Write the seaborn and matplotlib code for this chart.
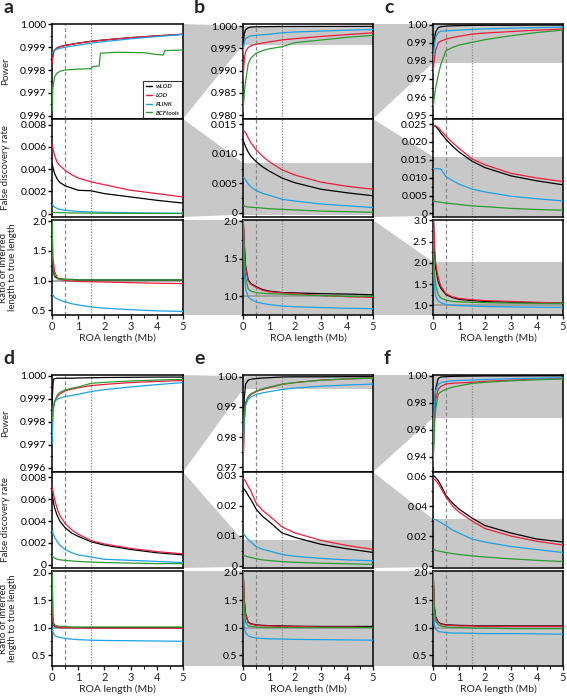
import numpy as np
import pandas as pd
import seaborn as sns
import matplotlib.pyplot as plt
from matplotlib.patches import Polygon
from matplotlib.lines import Line2D
from matplotlib.ticker import MultipleLocator, AutoMinorLocator, FuncFormatter

sns.set_theme(style='ticks')
plt.rcParams['font.family'] = ['Lato', 'DejaVu Sans']

methods = ['wLOD', 'LOD', 'PLINK', 'BCFtools']
palette = {'wLOD': '#000000', 'LOD': '#ee1c3c', 'PLINK': '#1ea0e6', 'BCFtools': '#2e9a33'}

roa = [0, 0.05, 0.1, 0.2, 0.3, 0.5, 0.75, 1, 1.5, 2, 3, 4, 5]

# ---- panel a ----
a_power = {
    'wLOD': [0.9984, 0.99875, 0.99888, 0.99897, 0.99902, 0.99908, 0.99913, 0.99918, 0.99926, 0.99932, 0.99942, 0.9995, 0.99957],
    'LOD': [0.9983, 0.99875, 0.99888, 0.99897, 0.99902, 0.99908, 0.99913, 0.99918, 0.99926, 0.99932, 0.99942, 0.9995, 0.99957],
    'PLINK': [0.99872, 0.99882, 0.99887, 0.99892, 0.99895, 0.999, 0.99905, 0.99909, 0.99918, 0.99925, 0.99937, 0.99947, 0.99956],
}
a_power_bcf_x = [0, 0.03, 0.1, 0.2, 0.35, 0.5, 1.0, 1.5, 1.55, 1.8, 1.85, 2.5, 3.5, 4.0, 4.25, 4.3, 5]
a_power_bcf_y = [0.9962, 0.9972, 0.9977, 0.99788, 0.99796, 0.998, 0.99804, 0.99806, 0.99815, 0.99818,
                 0.99874, 0.99878, 0.99876, 0.99868, 0.99866, 0.99885, 0.99888]
a_fdr = {
    'wLOD': [0.0045, 0.0040, 0.0036, 0.0031, 0.0028, 0.0025, 0.0023, 0.0021, 0.00205, 0.0018, 0.0015, 0.0012, 0.00095],
    'LOD': [0.0062, 0.0057, 0.0052, 0.0046, 0.0043, 0.0039, 0.0035, 0.0032, 0.00285, 0.0026, 0.0021, 0.0018, 0.0015],
    'PLINK': [0.0009, 0.0007, 0.0006, 0.00045, 0.0004, 0.0003, 0.00025, 0.0002, 0.00015, 0.00012, 0.00008, 0.00005, 0.00003],
    'BCFtools': [0.00012, 0.00011, 0.0001, 0.0001, 0.00009, 0.00008, 0.00007, 0.00006, 0.00005, 0.00004, 0.00003, 0.00002, 0.00002],
}
a_ratio = {
    'wLOD': [1.3, 1.15, 1.08, 1.04, 1.03, 1.02, 1.02, 1.01, 1.01, 1.01, 1.01, 1.01, 1.01],
    'LOD': [1.45, 1.33, 1.15, 1.05, 1.02, 1.0, 0.99, 0.985, 0.98, 0.975, 0.965, 0.955, 0.95],
    'PLINK': [0.78, 0.75, 0.72, 0.69, 0.67, 0.64, 0.61, 0.59, 0.555, 0.535, 0.51, 0.49, 0.48],
    'BCFtools': [2.05, 1.2, 1.06, 1.03, 1.02, 1.02, 1.015, 1.01, 1.01, 1.01, 1.01, 1.01, 1.01],
}

# ---- panel b ----
b_power = {
    'wLOD': [0.995, 0.9984, 0.9992, 0.99965, 0.9998, 0.99988, 0.9999, 0.99992, 0.99994, 0.99995, 0.99996, 0.99997, 0.99998],
    'LOD': [0.9881, 0.9925, 0.9943, 0.9952, 0.9956, 0.99595, 0.9962, 0.99645, 0.99692, 0.9972, 0.9977, 0.9981, 0.99853],
    'PLINK': [0.9936, 0.9965, 0.9972, 0.9976, 0.9978, 0.99795, 0.99808, 0.99818, 0.99853, 0.9987, 0.9989, 0.9991, 0.99927],
    'BCFtools': [0.9807, 0.985, 0.9877, 0.9915, 0.9928, 0.9939, 0.9945, 0.9949, 0.99538, 0.9963, 0.9969, 0.9975, 0.99795],
}
b_fdr = {
    'wLOD': [0.0122, 0.0118, 0.0112, 0.0103, 0.0096, 0.0087, 0.0078, 0.0071, 0.0059, 0.0051, 0.0040, 0.0034, 0.0029],
    'LOD': [0.0139, 0.0138, 0.0136, 0.0127, 0.0119, 0.0107, 0.0096, 0.0087, 0.0073, 0.0064, 0.0052, 0.0045, 0.0040],
    'PLINK': [0.0060, 0.0059, 0.0056, 0.0049, 0.0044, 0.0038, 0.0033, 0.0030, 0.0023, 0.0020, 0.0015, 0.0012, 0.0009],
    'BCFtools': [0.0012, 0.0012, 0.0011, 0.001, 0.00095, 0.0009, 0.0008, 0.0007, 0.0006, 0.0005, 0.0003, 0.0002, 0.0001],
}
b_ratio = {
    'wLOD': [2.1, 1.7, 1.4, 1.22, 1.17, 1.13, 1.09, 1.07, 1.05, 1.045, 1.035, 1.03, 1.02],
    'LOD': [2.1, 1.65, 1.38, 1.21, 1.16, 1.12, 1.08, 1.06, 1.045, 1.035, 1.01, 0.995, 0.985],
    'PLINK': [2.1, 1.3, 1.1, 0.99, 0.96, 0.925, 0.905, 0.89, 0.87, 0.86, 0.85, 0.84, 0.835],
    'BCFtools': [2.1, 1.5, 1.25, 1.1, 1.07, 1.05, 1.04, 1.035, 1.03, 1.02, 1.01, 1.0, 1.0],
}

# ---- panel c ----
c_power = {
    'wLOD': [0.9857, 0.992, 0.996, 0.9985, 0.999, 0.9993, 0.9995, 0.9996, 0.9997, 0.9998, 0.9998, 0.9999, 0.9999],
    'LOD': [0.9732, 0.981, 0.986, 0.990, 0.991, 0.9921, 0.9930, 0.9937, 0.9949, 0.9955, 0.9963, 0.9971, 0.9977],
    'PLINK': [0.9793, 0.988, 0.993, 0.9958, 0.9965, 0.9967, 0.9969, 0.9971, 0.9975, 0.9978, 0.9982, 0.9985, 0.9988],
    'BCFtools': [0.9537, 0.960, 0.965, 0.972, 0.978, 0.9857, 0.9875, 0.9888, 0.9903, 0.9918, 0.9940, 0.9958, 0.9971],
}
c_fdr = {
    'wLOD': [0.0245, 0.0245, 0.0244, 0.0235, 0.0225, 0.0207, 0.0188, 0.0172, 0.0146, 0.0128, 0.0105, 0.0091, 0.008],
    'LOD': [0.0245, 0.0245, 0.0245, 0.0240, 0.0232, 0.0216, 0.0198, 0.0182, 0.01525, 0.0136, 0.0112, 0.0099, 0.0089],
    'PLINK': [0.0125, 0.0125, 0.0125, 0.0125, 0.0124, 0.0103, 0.0092, 0.0082, 0.0068, 0.006, 0.0048, 0.0041, 0.0035],
    'BCFtools': [0.0034, 0.0034, 0.0033, 0.0032, 0.0031, 0.0029, 0.0027, 0.0025, 0.0021, 0.0019, 0.0014, 0.0011, 0.0009],
}
c_ratio = {
    'wLOD': [3.5, 2.3, 1.9, 1.55, 1.4, 1.25, 1.18, 1.14, 1.11, 1.09, 1.07, 1.06, 1.05],
    'LOD': [3.5, 2.5, 2.0, 1.65, 1.45, 1.27, 1.2, 1.16, 1.13, 1.11, 1.09, 1.07, 1.05],
    'PLINK': [2.0, 1.45, 1.22, 1.1, 1.06, 1.02, 1.0, 0.99, 0.98, 0.97, 0.96, 0.955, 0.95],
    'BCFtools': [2.8, 1.8, 1.5, 1.25, 1.17, 1.12, 1.09, 1.08, 1.07, 1.06, 1.05, 1.045, 1.04],
}

# ---- panel d ----
d_power = {
    'wLOD': [0.9988, 0.99985, 0.99988, 0.9999, 0.9999, 0.9999, 0.9999, 0.99991, 0.99992, 0.99993, 0.99994, 0.99995, 0.99995],
    'LOD': [0.9980, 0.9986, 0.99885, 0.9991, 0.99922, 0.99935, 0.99942, 0.99948, 0.99958, 0.99963, 0.99971, 0.99976, 0.9998],
    'PLINK': [0.9970, 0.9986, 0.9989, 0.99898, 0.99903, 0.9991, 0.99915, 0.9992, 0.99932, 0.9994, 0.99952, 0.99962, 0.99971],
    'BCFtools': [0.9980, 0.9986, 0.9989, 0.99915, 0.99928, 0.99939, 0.99946, 0.99952, 0.99968, 0.99972, 0.99978, 0.99982, 0.99985],
}
d_fdr = {
    'wLOD': [0.0065, 0.0058, 0.0052, 0.0045, 0.0040, 0.0034, 0.0029, 0.0026, 0.0021, 0.0018, 0.0014, 0.0011, 0.0009],
    'LOD': [0.0071, 0.0066, 0.0060, 0.0051, 0.0045, 0.0038, 0.0032, 0.0028, 0.0022, 0.0019, 0.0015, 0.0012, 0.0010],
    'PLINK': [0.0031, 0.0028, 0.0025, 0.0021, 0.0018, 0.0014, 0.0011, 0.0009, 0.0007, 0.0005, 0.0004, 0.0003, 0.0002],
    'BCFtools': [0.0008, 0.0007, 0.0006, 0.0005, 0.00045, 0.0004, 0.00035, 0.0003, 0.00025, 0.0002, 0.00015, 0.0001, 0.0001],
}
d_ratio = {
    'wLOD': [1.3, 1.05, 1.02, 1.01, 1.0, 1.0, 1.0, 1.0, 1.0, 1.0, 1.0, 1.0, 1.0],
    'LOD': [1.35, 1.06, 1.03, 1.01, 1.0, 1.0, 0.995, 0.995, 0.99, 0.99, 0.99, 0.99, 0.99],
    'PLINK': [1.0, 0.9, 0.86, 0.83, 0.82, 0.8, 0.79, 0.78, 0.77, 0.765, 0.76, 0.755, 0.75],
    'BCFtools': [2.1, 1.1, 1.05, 1.03, 1.02, 1.02, 1.01, 1.01, 1.01, 1.01, 1.01, 1.01, 1.01],
}

# ---- panel e ----
e_power = {
    'wLOD': [0.97, 0.993, 0.9975, 0.9988, 0.9991, 0.9993, 0.9995, 0.9996, 0.99985, 0.9999, 0.9999, 0.99995, 0.99995],
    'LOD': [0.968, 0.985, 0.991, 0.993, 0.994, 0.995, 0.9957, 0.9963, 0.9974, 0.998, 0.9988, 0.9992, 0.9995],
    'PLINK': [0.975, 0.986, 0.9905, 0.9925, 0.9932, 0.9941, 0.9946, 0.995, 0.9957, 0.9962, 0.9968, 0.9972, 0.9975],
    'BCFtools': [0.975, 0.988, 0.9915, 0.9935, 0.9943, 0.9952, 0.996, 0.9965, 0.9975, 0.998, 0.9988, 0.9992, 0.9995],
}
e_fdr = {
    'wLOD': [0.026, 0.0255, 0.025, 0.0235, 0.0222, 0.019, 0.0165, 0.0148, 0.011, 0.0095, 0.0072, 0.0057, 0.0045],
    'LOD': [0.029, 0.0288, 0.0282, 0.0265, 0.025, 0.021, 0.0185, 0.0168, 0.013, 0.011, 0.0085, 0.0068, 0.0055],
    'PLINK': [0.011, 0.0105, 0.0098, 0.0088, 0.008, 0.0065, 0.0055, 0.005, 0.0038, 0.0032, 0.0025, 0.002, 0.0017],
    'BCFtools': [0.0035, 0.0034, 0.0033, 0.003, 0.0028, 0.0024, 0.002, 0.0018, 0.0014, 0.0012, 0.0009, 0.0007, 0.0005],
}
e_ratio = {
    'wLOD': [2.1, 1.5, 1.25, 1.1, 1.07, 1.05, 1.04, 1.035, 1.03, 1.025, 1.02, 1.02, 1.02],
    'LOD': [2.1, 1.45, 1.23, 1.09, 1.06, 1.04, 1.03, 1.03, 1.02, 1.02, 1.01, 1.01, 1.0],
    'PLINK': [1.5, 1.0, 0.9, 0.85, 0.83, 0.81, 0.8, 0.795, 0.79, 0.785, 0.78, 0.775, 0.77],
    'BCFtools': [2.1, 1.3, 1.1, 1.03, 1.02, 1.01, 1.0, 1.0, 1.0, 1.0, 1.0, 1.0, 1.0],
}

# ---- panel f ----
f_power = {
    'wLOD': [0.93, 0.97, 0.99, 0.998, 0.999, 0.9993, 0.9995, 0.9996, 0.9997, 0.9998, 0.9998, 0.9999, 0.9999],
    'LOD': [0.945, 0.97, 0.982, 0.990, 0.992, 0.9939, 0.9944, 0.9947, 0.9951, 0.9958, 0.9967, 0.9975, 0.998],
    'PLINK': [0.9548, 0.978, 0.989, 0.9935, 0.9948, 0.9958, 0.9962, 0.9965, 0.9968, 0.9972, 0.9978, 0.9982, 0.9985],
    'BCFtools': [0.933, 0.96, 0.975, 0.9863, 0.988, 0.990, 0.9915, 0.9925, 0.9943, 0.9951, 0.9962, 0.997, 0.9975],
}
f_fdr = {
    'wLOD': [0.060, 0.060, 0.059, 0.057, 0.054, 0.047, 0.042, 0.038, 0.032, 0.027, 0.022, 0.018, 0.016],
    'LOD': [0.058, 0.058, 0.057, 0.055, 0.052, 0.046, 0.040, 0.036, 0.030, 0.025, 0.020, 0.0165, 0.014],
    'PLINK': [0.031, 0.031, 0.031, 0.030, 0.029, 0.027, 0.024, 0.022, 0.018, 0.016, 0.013, 0.011, 0.009],
    'BCFtools': [0.011, 0.011, 0.0105, 0.010, 0.0097, 0.009, 0.0083, 0.0077, 0.0068, 0.006, 0.0048, 0.0038, 0.003],
}
f_ratio = {
    'wLOD': [2.1, 1.4, 1.2, 1.1, 1.07, 1.05, 1.045, 1.04, 1.035, 1.03, 1.03, 1.03, 1.03],
    'LOD': [2.1, 1.35, 1.18, 1.09, 1.06, 1.04, 1.035, 1.03, 1.03, 1.02, 1.02, 1.02, 1.02],
    'PLINK': [1.6, 1.05, 0.97, 0.93, 0.92, 0.91, 0.9, 0.9, 0.895, 0.89, 0.89, 0.885, 0.88],
    'BCFtools': [2.1, 1.3, 1.12, 1.05, 1.03, 1.01, 1.0, 1.0, 0.99, 0.99, 0.98, 0.98, 0.98],
}

# axis settings: (ylim, tick step, label format)
power_axes = [((0.99585, 1.00002), 0.001, '{:.3f}'), ((0.9791, 1.0005), 0.005, '{:.3f}'), ((0.9478, 1.0005), 0.01, '{:.2f}'),
              ((0.99581, 1.00004), 0.001, '{:.3f}'), ((0.9685, 1.0005), 0.01, '{:.2f}'), ((0.9289, 1.0005), 0.02, '{:.2f}')]
fdr_axes = [((-0.0003, 0.0085), 0.002, '{:.3f}'), ((-0.0007, 0.0159), 0.005, '{:.3f}'), ((-0.001, 0.0264), 0.005, '{:.3f}'),
            ((-0.0003, 0.0085), 0.002, '{:.3f}'), ((-0.0007, 0.0313), 0.01, '{:.2f}'), ((-0.0013, 0.0627), 0.02, '{:.2f}')]
ratio_axes = [((0.42, 2.02), 0.5, '{:.1f}'), ((0.75, 2.02), 0.5, '{:.1f}'), ((0.77, 3.01), 0.5, '{:.1f}'),
              ((0.3, 2.03), 0.5, '{:.1f}'), ((0.3, 2.03), 0.5, '{:.1f}'), ((0.3, 2.03), 0.5, '{:.1f}')]

W, H = 567, 697
fig = plt.figure(figsize=(W / 100, H / 100), dpi=100)
cols = [(52, 183), (243, 373), (433, 563)]
rows_top = [(24, 119), (119, 217), (220, 315)]
rows_bot = [(375, 472), (472, 568), (571, 666)]
grey = '#c8c8c8'


def add_ax(l, r, t, b):
    return fig.add_axes([l / W, 1 - b / H, (r - l) / W, (b - t) / H])


def style_ax(ax, ylim, step, fmt, xaxis):
    ax.set_xlim(0, 5)
    ax.set_ylim(*ylim)
    ax.yaxis.set_major_locator(MultipleLocator(step))
    ax.yaxis.set_minor_locator(AutoMinorLocator(2))
    ax.yaxis.set_major_formatter(FuncFormatter(lambda v, p: '0' if abs(v) < 1e-9 else fmt.format(v)))
    for s in ax.spines.values():
        s.set_linewidth(1.1)
        s.set_color('black')
    ax.tick_params(axis='y', which='major', direction='out', length=3, width=1, labelsize=7.5, pad=1, colors='black')
    ax.tick_params(axis='y', which='minor', direction='out', length=1.8, width=0.8)
    ax.axvline(0.5, color='#8a8a8a', ls=(0, (3, 2)), lw=0.9, zorder=1.5)
    ax.axvline(1.5, color='#8a8a8a', ls=(0, (1, 1.2)), lw=0.9, zorder=1.5)
    if xaxis:
        ax.xaxis.set_major_locator(MultipleLocator(1))
        ax.xaxis.set_minor_locator(MultipleLocator(0.5))
        ax.tick_params(axis='x', which='major', direction='out', length=3, width=1, labelsize=8, pad=1.5)
        ax.tick_params(axis='x', which='minor', direction='out', length=1.8, width=0.8)
        ax.set_xlabel('ROA length (Mb)', fontsize=7.5, labelpad=1)
    else:
        ax.tick_params(axis='x', which='both', bottom=False, labelbottom=False)
    ax.set_ylabel('')


def draw(ax, data, xs=roa):
    for m in methods:
        if m in data:
            sns.lineplot(x=xs, y=data[m], ax=ax, color=palette[m], lw=0.9, sort=False, estimator=None, zorder=3)


panels = [(a_power, a_fdr, a_ratio), (b_power, b_fdr, b_ratio), (c_power, c_fdr, c_ratio),
          (d_power, d_fdr, d_ratio), (e_power, e_fdr, e_ratio), (f_power, f_fdr, f_ratio)]
letters = ['a', 'b', 'c', 'd', 'e', 'f']
grid = {}
for i, (pw, fd, ra) in enumerate(panels):
    l, r = cols[i % 3]
    rws = rows_top if i < 3 else rows_bot
    axp = add_ax(l, r, *rws[0])
    axf = add_ax(l, r, *rws[1])
    axr = add_ax(l, r, *rws[2])
    draw(axp, pw)
    draw(axf, fd)
    axr.axhline(1.0, color='#9a9a9a', lw=1.2, zorder=1.6)
    draw(axr, ra)
    style_ax(axp, *power_axes[i], False)
    style_ax(axf, *fdr_axes[i], False)
    style_ax(axr, *ratio_axes[i], True)
    grid[i] = (axp, axf, axr)
    fig.text((l - 49) / W, 1 - (rws[0][0] - 8) / H, letters[i], fontsize=14, fontweight='bold', va='bottom', ha='left')

# BCFtools step curve in panel a
sns.lineplot(x=a_power_bcf_x, y=a_power_bcf_y, ax=grid[0][0], color=palette['BCFtools'], lw=0.9,
             sort=False, estimator=None, zorder=3)

# y labels on the first column
for i in (0, 3):
    axp, axf, axr = grid[i]
    axp.set_ylabel('Power', fontsize=7)
    axf.set_ylabel('False discovery rate', fontsize=7)
    axr.set_ylabel('Ratio of inferred\nlength to true length', fontsize=7, linespacing=1.05)
    axp.yaxis.set_label_coords(-0.32, 0.5)
    axf.yaxis.set_label_coords(-0.32, 0.5)
    axr.yaxis.set_label_coords(-0.265, 0.5)

# legend
handles = [Line2D([], [], color=palette[m], lw=1) for m in methods]
leg = grid[0][0].legend(handles, methods, loc='lower right', borderaxespad=0.1, handlelength=1.0,
                        handletextpad=0.6, labelspacing=0.55, borderpad=0.45, fancybox=False,
                        prop={'weight': 'bold', 'style': 'italic', 'size': 4.5})
leg.get_frame().set_edgecolor('black')
leg.get_frame().set_linewidth(0.8)

# zoom connectors: the y-range of one panel shown as a grey band in the next
inv = fig.transFigure.inverted()
for base in (0, 3):
    for k in range(3):
        for j in range(2):
            src = grid[base + j][k]
            tgt = grid[base + j + 1][k]
            y0, y1 = src.get_ylim()
            tgt.axhspan(y0, y1, color=grey, lw=0, zorder=0.5)
            sb = src.get_position()
            tb = tgt.get_position()
            d0 = inv.transform(tgt.transData.transform((0, y0)))[1]
            d1 = inv.transform(tgt.transData.transform((0, y1)))[1]
            d0 = max(d0, tb.y0)
            d1 = min(d1, tb.y1)
            poly = Polygon([(sb.x1, sb.y0), (sb.x1, sb.y1), (tb.x0, d1), (tb.x0, d0)],
                           closed=True, transform=fig.transFigure, facecolor=grey, edgecolor='none', zorder=-1)
            fig.add_artist(poly)

fig.savefig('out.png', dpi=100)
